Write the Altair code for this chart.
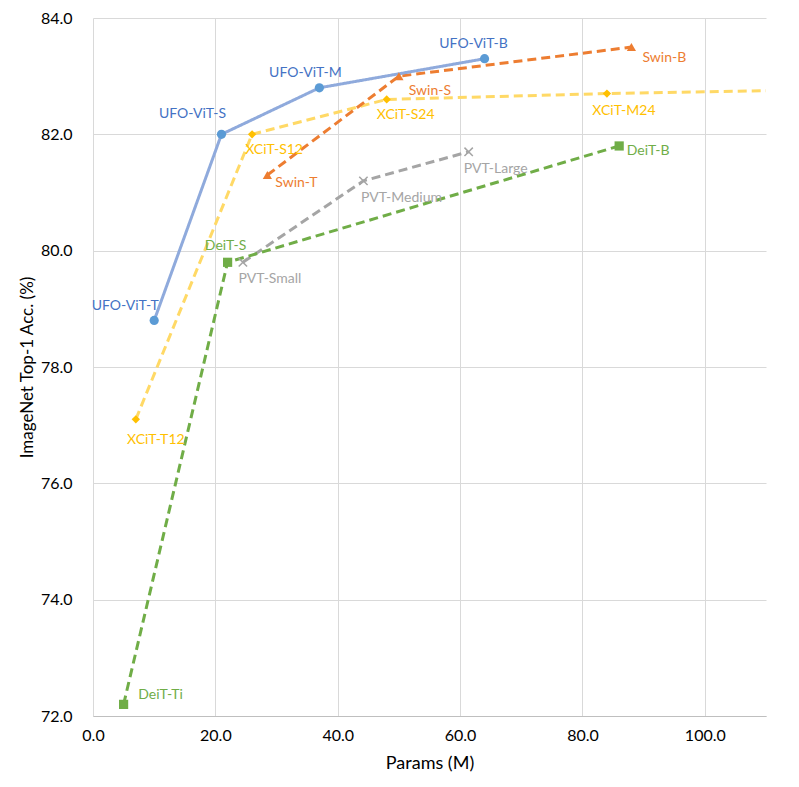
import altair as alt
import pandas as pd

# ---- data ----
ufo_names = ["UFO-ViT-T", "UFO-ViT-S", "UFO-ViT-M", "UFO-ViT-B"]
ufo_params = [10.0, 21.0, 37.0, 64.0]
ufo_acc = [78.8, 82.0, 82.8, 83.3]

xcit_names = ["XCiT-T12", "XCiT-S12", "XCiT-S24", "XCiT-M24", "XCiT-L24"]
xcit_params = [7.0, 26.0, 48.0, 84.0, 189.0]
xcit_acc = [77.1, 82.0, 82.6, 82.7, 82.9]

swin_names = ["Swin-T", "Swin-S", "Swin-B"]
swin_params = [28.5, 50.0, 88.0]
swin_acc = [81.3, 83.0, 83.5]

pvt_names = ["PVT-Small", "PVT-Medium", "PVT-Large"]
pvt_params = [24.5, 44.2, 61.4]
pvt_acc = [79.8, 81.2, 81.7]

deit_names = ["DeiT-Ti", "DeiT-S", "DeiT-B"]
deit_params = [5.0, 22.0, 86.0]
deit_acc = [72.2, 79.8, 81.8]

x_ticks = [0, 20, 40, 60, 80, 100]
y_ticks = [72, 74, 76, 78, 80, 82, 84]

families = [
    ("UFO-ViT", ufo_names, ufo_params, ufo_acc),
    ("XCiT", xcit_names, xcit_params, xcit_acc),
    ("Swin", swin_names, swin_params, swin_acc),
    ("PVT", pvt_names, pvt_params, pvt_acc),
    ("DeiT", deit_names, deit_params, deit_acc),
]

rows = []
for fam, names, ps, accs in families:
    for n, p, a in zip(names, ps, accs):
        rows.append({"family": fam, "model": n, "params": p, "acc": a})
df = pd.DataFrame(rows)

# ---- styles / layout ----
STYLE = {
    "UFO-ViT": dict(line="#8FAADC", marker="#5B9BD5", text="#4472C4", dash=[1, 0], shape="circle", size=85, filled=True),
    "XCiT": dict(line="#FFD966", marker="#FFC000", text="#FFC000", dash=[9, 5], shape="diamond", size=70, filled=True),
    "Swin": dict(line="#ED7D31", marker="#ED7D31", text="#ED7D31", dash=[9, 5], shape="triangle-up", size=85, filled=True),
    "PVT": dict(line="#A5A5A5", marker="#A5A5A5", text="#A5A5A5", dash=[9, 5], shape="M-1,-1L1,1M-1,1L1,-1", size=70, filled=False),
    "DeiT": dict(line="#70AD47", marker="#70AD47", text="#70AD47", dash=[9, 5], shape="square", size=85, filled=True),
}
DRAW_ORDER = ["XCiT", "PVT", "DeiT", "Swin", "UFO-ViT"]

LABEL_OFFSETS = {
    "UFO-ViT-T": (-29, -14), "UFO-ViT-S": (-29, -20), "UFO-ViT-M": (-14, -15), "UFO-ViT-B": (-11, -15),
    "XCiT-T12": (20, 21), "XCiT-S12": (22, 16), "XCiT-S24": (19, 16), "XCiT-M24": (17, 17),
    "Swin-T": (29, 8), "Swin-S": (31, 15), "Swin-B": (33, 11),
    "PVT-Small": (27, 17), "PVT-Medium": (38, 17), "PVT-Large": (27, 17),
    "DeiT-Ti": (37, -9), "DeiT-S": (-2, -16), "DeiT-B": (29, 5),
}

FONT = "Lato"

x_enc = alt.X(
    "params:Q",
    scale=alt.Scale(domain=[0, 110], nice=False, zero=False),
    axis=alt.Axis(
        values=x_ticks, format=".1f", grid=True, ticks=False, labelFlush=False,
        domainColor="#BFBFBF", gridColor="#D9D9D9",
        labelFontSize=16, labelColor="#000000", labelFont=FONT, labelPadding=11,
        title="Params (M)", titleFontSize=18, titleFontWeight="normal", titleFont=FONT,
        titleColor="#000000", titleY=47, titleBaseline="middle",
    ),
)
y_enc = alt.Y(
    "acc:Q",
    scale=alt.Scale(domain=[72, 84], nice=False, zero=False),
    axis=alt.Axis(
        values=y_ticks, format=".1f", grid=True, ticks=False, domain=False, labelFlush=False,
        gridColor="#D9D9D9",
        labelFontSize=16, labelColor="#000000", labelFont=FONT, labelPadding=21,
        title="ImageNet Top-1 Acc. (%)", titleFontSize=17, titleFontWeight="normal", titleFont=FONT,
        titleColor="#000000", titleX=-66, titleY=349, titleBaseline="middle", titleAngle=-90,
    ),
)

base = alt.Chart(df)
layers = []
for fam in DRAW_ORDER:
    s = STYLE[fam]
    sub = base.transform_filter(alt.datum.family == fam)
    layers.append(
        sub.mark_line(color=s["line"], strokeWidth=3, strokeDash=s["dash"], clip=True).encode(
            x=x_enc, y=y_enc, order="params:Q"
        )
    )
for fam in DRAW_ORDER:
    s = STYLE[fam]
    sub = base.transform_filter(alt.datum.family == fam)
    pt = dict(shape=s["shape"], size=s["size"], filled=s["filled"], opacity=1, clip=True)
    if s["filled"]:
        pt["fill"] = s["marker"]
        pt["strokeWidth"] = 0
    else:
        pt["stroke"] = s["marker"]
        pt["strokeWidth"] = 1.5
    layers.append(sub.mark_point(**pt).encode(x=x_enc, y=y_enc))

for fam, names, ps, accs in families:
    s = STYLE[fam]
    for n in names:
        if n not in LABEL_OFFSETS:
            continue
        dx, dy = LABEL_OFFSETS[n]
        layers.append(
            base.transform_filter(alt.datum.model == n)
            .mark_text(color=s["text"], font=FONT, fontSize=14, dx=dx, dy=dy, align="center", baseline="middle")
            .encode(x=x_enc, y=y_enc, text="model:N")
        )

chart = (
    alt.layer(*layers)
    .properties(
        width=673, height=698,
        autosize=alt.AutoSizeParams(type="none"),
        padding={"left": 85, "top": 10, "right": 25, "bottom": 63},
        background="white",
    )
    .configure_view(stroke=None)
)

chart.save("out.html", embed_options={"renderer": "svg", "actions": False})
